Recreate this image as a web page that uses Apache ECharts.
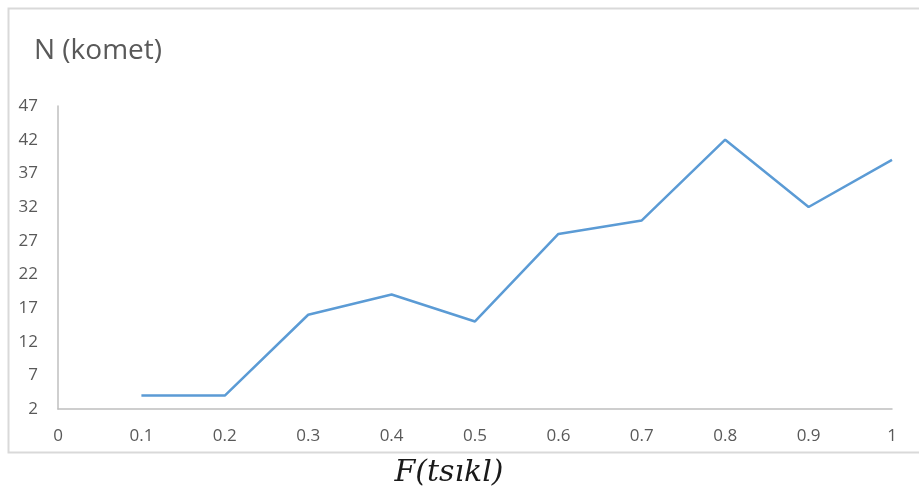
<!DOCTYPE html>
<html>
<head>
<meta charset="utf-8">
<script src="https://cdn.jsdelivr.net/npm/echarts@6/dist/echarts.min.js"></script>
<style>
html,body{margin:0;padding:0;background:#fff;}
#chart{width:919px;height:492px;}
</style>
</head>
<body>
<div id="chart"></div>
<script>
const categories = ['0','0.1','0.2','0.3','0.4','0.5','0.6','0.7','0.8','0.9','1'];
const values = [null, 4, 4, 16, 19, 15, 28, 30, 42, 32, 39];
const yTitle = 'N (komet)';
const xTitle = 'F(tsıkl)';

const chart = echarts.init(document.getElementById('chart'), null, {renderer:'canvas'});
chart.setOption({
  animation: false,
  backgroundColor: '#fff',
  graphic: [
    {type:'rect', shape:{x:8.5, y:8.5, width:930, height:444}, style:{fill:'none', stroke:'#d9d9d9', lineWidth:2}, z:-1},
    {type:'text', left:34, top:37, style:{text:yTitle, font:'28px "Open Sans", "Noto Sans", sans-serif', fill:'#595959'}},
    {type:'text', x:449, y:473, style:{text:xTitle, align:'center', verticalAlign:'middle', font:'italic 30px "DejaVu Serif", "Liberation Serif", serif', fill:'#1a1a1a'}}
  ],
  grid: {left:58, right:27, top:106, bottom:83, containLabel:false},
  xAxis: {
    type:'category',
    data: categories,
    boundaryGap: false,
    axisLine:{lineStyle:{color:'#bfbfbf', width:1.5}},
    axisTick:{show:false},
    axisLabel:{color:'#595959', fontSize:17, margin:19, fontFamily:'"Open Sans", "Noto Sans", sans-serif'},
    splitLine:{show:false}
  },
  yAxis: {
    type:'value',
    min:2, max:47, interval:5,
    axisLine:{show:true, lineStyle:{color:'#bfbfbf', width:1.5}},
    axisTick:{show:false},
    axisLabel:{color:'#595959', fontSize:17, margin:20, fontFamily:'"Open Sans", "Noto Sans", sans-serif'},
    splitLine:{show:false}
  },
  series: [{
    type:'line',
    data: values,
    symbol:'none',
    connectNulls:false,
    lineStyle:{color:'#5b9bd5', width:2.5}
  }]
});
</script>
</body>
</html>
